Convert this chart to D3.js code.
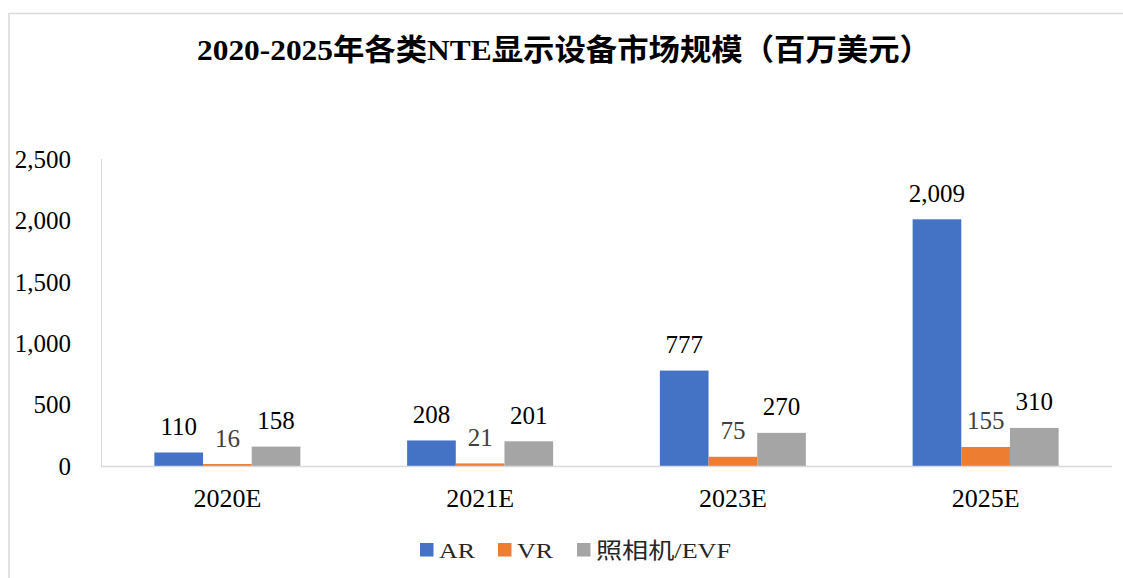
<!DOCTYPE html>
<html><head><meta charset="utf-8">
<script src="https://cdn.jsdelivr.net/npm/d3@7"></script>
<style>
html,body{margin:0;padding:0;background:#fff;}
svg{display:block;}
</style></head>
<body>
<svg id="chart" width="1123" height="578"></svg>
<script>
const title = "2020-2025年各类NTE显示设备市场规模（百万美元）";
const categories = ["2020E", "2021E", "2023E", "2025E"];
const seriesNames = ["AR", "VR", "照相机/EVF"];
const arValues = [110, 208, 777, 2009];
const vrValues = [16, 21, 75, 155];
const evfValues = [158, 201, 270, 310];
const yTicks = [0, 500, 1000, 1500, 2000, 2500];
const colors = ["#4472C4", "#ED7D31", "#A5A5A5"];
const labelColors = ["#000000", "#404040", "#000000"];

(function () {
const series = [arValues, vrValues, evfValues];
const svg = d3.select("#chart");
const serif = "'Liberation Serif','Times New Roman',serif";

const mLeft = 101, mRight = 1112, mTop = 159, mBottom = 466;

// frame
svg.append("path").attr("d", "M9,578 L9,13.5 L1123,13.5")
  .attr("fill", "none").attr("stroke", "#D9D9D9").attr("stroke-width", 1.5);

// title
svg.append("text").attr("x", 564).attr("y", 60).attr("text-anchor", "middle")
  .attr("font-family", "'Liberation Serif','Noto Sans CJK SC',serif")
  .attr("font-weight", "bold").attr("font-size", 30).attr("fill", "#000")
  .attr("textLength", 734).attr("lengthAdjust", "spacingAndGlyphs")
  .text(title);

const y = d3.scaleLinear().domain([0, 2500]).range([mBottom, mTop]);
const x = d3.scaleBand().domain(categories).range([mLeft, mRight]).padding(0);
const groupW = 146;
const xs = d3.scaleBand().domain(d3.range(series.length)).range([0, groupW]).padding(0);

// y axis
const yAxis = d3.axisLeft(y).tickValues(yTicks).tickSize(0).tickPadding(0)
  .tickFormat(d3.format(","));
const gy = svg.append("g").attr("transform", `translate(71,0)`).call(yAxis);
gy.select(".domain").remove();
gy.selectAll("text").attr("font-family", serif).attr("font-size", 25).attr("fill", "#000")
  .attr("dy", "0.33em");

svg.append("line").attr("x1", mLeft + 0.5).attr("x2", mLeft + 0.5).attr("y1", mTop).attr("y2", mBottom)
  .attr("stroke", "#D9D9D9").attr("stroke-width", 1);

// bars
series.forEach((vals, si) => {
  const g = svg.append("g");
  g.selectAll("rect").data(vals).join("rect")
    .attr("x", (d, i) => x(categories[i]) + x.bandwidth() / 2 - groupW / 2 + xs(si))
    .attr("y", d => y(d))
    .attr("width", xs.bandwidth())
    .attr("height", d => mBottom - y(d))
    .attr("fill", colors[si]);
  g.selectAll("text").data(vals).join("text")
    .attr("x", (d, i) => x(categories[i]) + x.bandwidth() / 2 - groupW / 2 + xs(si) + xs.bandwidth() / 2)
    .attr("y", d => y(d) - 17.5)
    .attr("text-anchor", "middle")
    .attr("font-family", serif).attr("font-size", 25).attr("fill", labelColors[si])
    .text(d => d3.format(",")(d));
});

// x axis
svg.append("line").attr("x1", mLeft).attr("x2", mRight).attr("y1", mBottom + 0.5).attr("y2", mBottom + 0.5)
  .attr("stroke", "#D9D9D9").attr("stroke-width", 1.5);
const xAxis = d3.axisBottom(x).tickSize(0).tickPadding(0);
const gx = svg.append("g").attr("transform", `translate(0,${mBottom})`).call(xAxis);
gx.select(".domain").remove();
gx.selectAll("text").attr("font-family", serif).attr("font-size", 26).attr("fill", "#000")
  .attr("dy", null).attr("y", 41);

// legend
const legendX = [420, 498, 577];
const legendW = [36, 36, 135];
const lg = svg.append("g");
seriesNames.forEach((name, i) => {
  lg.append("rect").attr("x", legendX[i]).attr("y", 543).attr("width", 13.5).attr("height", 13.5)
    .attr("fill", colors[i]);
  lg.append("text").attr("x", legendX[i] + 19).attr("y", 558)
    .attr("font-family", "'Liberation Serif','Noto Sans CJK SC',serif")
    .attr("font-size", 22).attr("fill", "#262626")
    .attr("textLength", legendW[i]).attr("lengthAdjust", "spacingAndGlyphs")
    .text(name);
});
})();
</script>
</body></html>
